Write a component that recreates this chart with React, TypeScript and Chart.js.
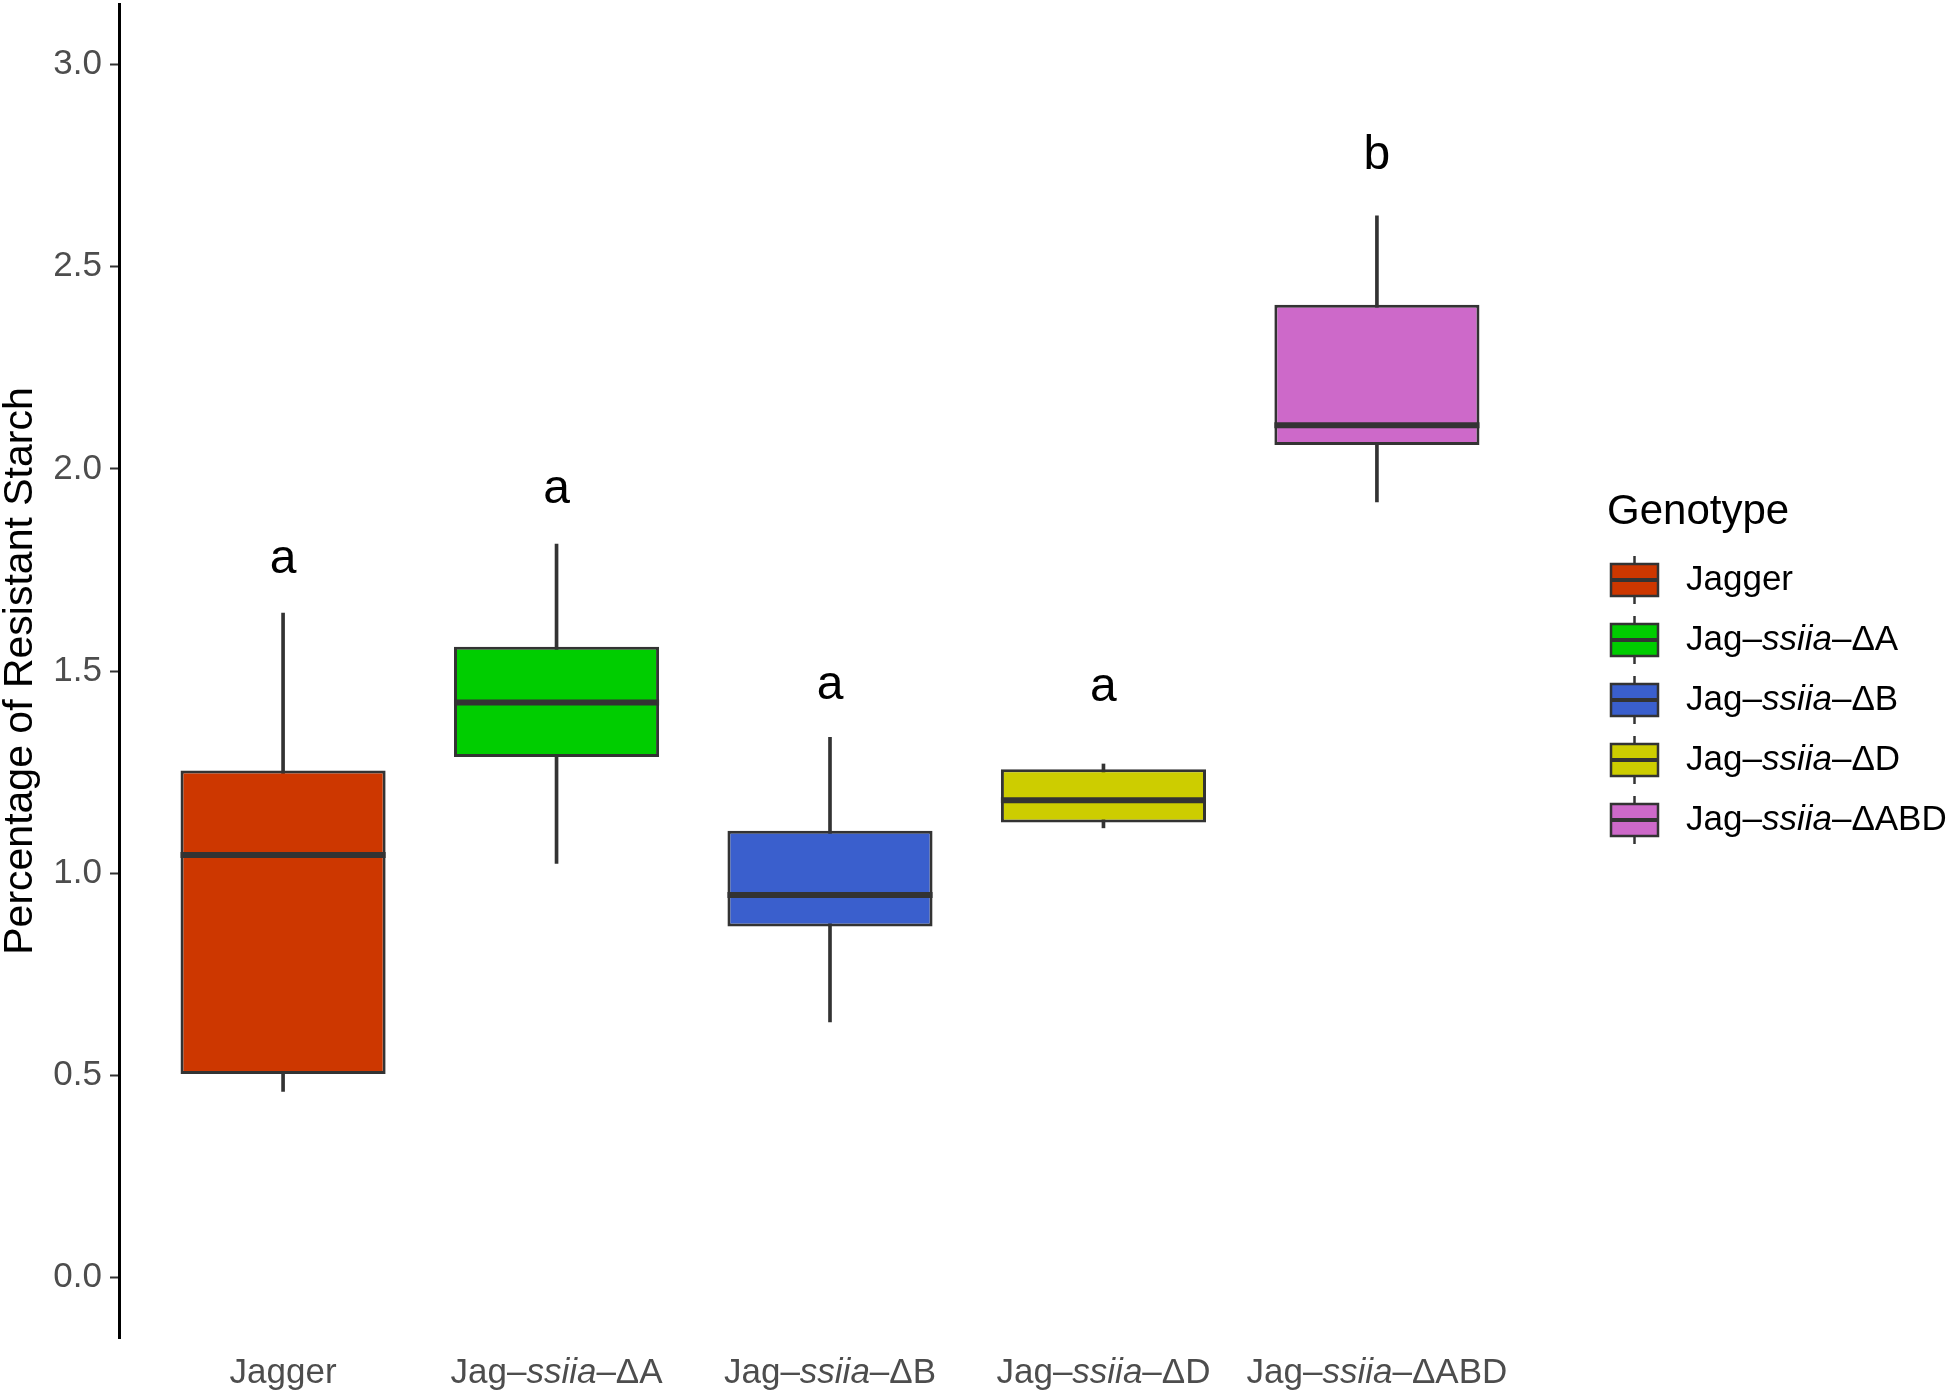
import React, { useEffect, useRef } from 'react';
import { Chart, registerables } from 'chart.js';

Chart.register(...registerables);

// ---------- data ----------
const categories = ['Jagger', 'Jag–ssiia–ΔA', 'Jag–ssiia–ΔB', 'Jag–ssiia–ΔD', 'Jag–ssiia–ΔABD'];
const labelPrefix = ['Jagger', 'Jag–', 'Jag–', 'Jag–', 'Jag–'];
const labelItalic = ['', 'ssiia', 'ssiia', 'ssiia', 'ssiia'];
const labelSuffix = ['', '–ΔA', '–ΔB', '–ΔD', '–ΔABD'];

const whiskerLow = [0.46, 1.024, 0.632, 1.112, 1.918];
const q1 = [0.503, 1.287, 0.868, 1.125, 2.059];
const median = [1.045, 1.422, 0.946, 1.18, 2.108];
const q3 = [1.254, 1.56, 1.105, 1.257, 2.406];
const whiskerHigh = [1.643, 1.814, 1.336, 1.27, 2.626];

const letters = ['a', 'a', 'a', 'a', 'b'];
const letterY = [1.775, 1.948, 1.464, 1.459, 2.775];

const yTicks = [0, 0.5, 1.0, 1.5, 2.0, 2.5, 3.0];
const yMin = -0.15;
const yMax = 3.15;

const fillColors = ['#CD3700', '#00CD00', '#3A5FCD', '#CDCD00', '#CD69C9'];
const legendTitle = 'Genotype';
const yTitle = 'Percentage of Resistant Starch';

// ---------- styles ----------
const FONT = '"Liberation Sans", Arial, Helvetica, sans-serif';
const LINE = '#333333';
const BOX_RATIO = 0.75;

const positions = categories.map((_, i) => i + 1);

function drawRich(
  ctx: CanvasRenderingContext2D,
  parts: [string, boolean][],
  x: number,
  y: number,
  size: number,
  align: 'left' | 'center',
  color: string
) {
  const fonts = parts.map(([, it]) => `${it ? 'italic ' : ''}${size}px ${FONT}`);
  const widths = parts.map(([t], k) => {
    ctx.font = fonts[k];
    return ctx.measureText(t).width;
  });
  const total = widths.reduce((a, b) => a + b, 0);
  let cx = align === 'center' ? x - total / 2 : x;
  ctx.fillStyle = color;
  ctx.textAlign = 'left';
  parts.forEach(([t], k) => {
    ctx.font = fonts[k];
    ctx.fillText(t, cx, y);
    cx += widths[k];
  });
}

const decorPlugin = {
  id: 'decor',
  afterDraw(chart: any) {
    const { ctx, chartArea } = chart;
    const xs = chart.scales.x;
    const ys = chart.scales.y;
    ctx.save();

    // significance letters
    ctx.textBaseline = 'middle';
    ctx.textAlign = 'center';
    ctx.fillStyle = '#000000';
    ctx.font = `48px ${FONT}`;
    letters.forEach((l, i) => {
      ctx.fillText(l, xs.getPixelForValue(positions[i]), ys.getPixelForValue(letterY[i]));
    });

    // x-axis category labels (with italic gene name)
    ctx.textBaseline = 'alphabetic';
    categories.forEach((_, i) => {
      const parts: [string, boolean][] = [
        [labelPrefix[i], false],
        [labelItalic[i], true],
        [labelSuffix[i], false],
      ];
      drawRich(ctx, parts, xs.getPixelForValue(positions[i]), chartArea.bottom + 45, 35, 'center', '#4D4D4D');
    });

    // legend
    const midY = (chartArea.top + chartArea.bottom) / 2;
    const lx = chartArea.right + 66;
    ctx.textBaseline = 'middle';
    ctx.textAlign = 'left';
    ctx.fillStyle = '#000000';
    ctx.font = `42px ${FONT}`;
    ctx.fillText(legendTitle, lx, midY - 159);
    categories.forEach((_, i) => {
      const cy = midY - 91 + i * 60;
      const bx = lx + 4;
      const bw = 47;
      const bh = 32;
      const cxk = bx + bw / 2;
      ctx.strokeStyle = LINE;
      ctx.lineWidth = 2.5;
      ctx.beginPath();
      ctx.moveTo(cxk, cy - 24);
      ctx.lineTo(cxk, cy + 24);
      ctx.stroke();
      ctx.fillStyle = fillColors[i];
      ctx.fillRect(bx, cy - bh / 2, bw, bh);
      ctx.strokeRect(bx, cy - bh / 2, bw, bh);
      ctx.lineWidth = 4;
      ctx.beginPath();
      ctx.moveTo(bx, cy);
      ctx.lineTo(bx + bw, cy);
      ctx.stroke();
      drawRich(
        ctx,
        [
          [labelPrefix[i], false],
          [labelItalic[i], true],
          [labelSuffix[i], false],
        ],
        lx + 79,
        cy,
        35,
        'left',
        '#000000'
      );
    });

    ctx.restore();
  },
};

export default function App() {
  const canvasRef = useRef<HTMLCanvasElement | null>(null);

  useEffect(() => {
    document.body.style.margin = '0';
    document.body.style.overflow = 'hidden';
    const canvas = canvasRef.current;
    if (!canvas) return;

    const chart = new Chart(canvas, {
      type: 'bar',
      data: {
        datasets: [
          {
            type: 'line',
            label: 'median',
            data: positions.map((x, i) => ({ x, y: median[i] })),
            showLine: false,
            pointStyle: 'line',
            pointRadius: (c: any) => {
              const s = c.chart.scales.x;
              return (Math.abs(s.getPixelForValue(2) - s.getPixelForValue(1)) * BOX_RATIO) / 2;
            },
            pointBorderWidth: 6,
            pointBorderColor: LINE,
            borderColor: LINE,
            order: 0,
          } as any,
          {
            type: 'bar',
            label: 'box',
            data: positions.map((x, i) => ({ x, y: [q1[i], q3[i]] })),
            backgroundColor: fillColors,
            borderColor: LINE,
            borderWidth: 3,
            borderSkipped: false,
            grouped: false,
            categoryPercentage: 1,
            barPercentage: BOX_RATIO,
            order: 1,
          } as any,
          {
            type: 'bar',
            label: 'whisker',
            data: positions.map((x, i) => ({ x, y: [whiskerLow[i], whiskerHigh[i]] })),
            backgroundColor: LINE,
            borderWidth: 0,
            grouped: false,
            barThickness: 3,
            order: 2,
          } as any,
        ],
      },
      options: {
        responsive: false,
        animation: false,
        devicePixelRatio: 1,
        layout: { padding: { top: 4, right: 405, bottom: 0, left: 0 } },
        plugins: {
          legend: { display: false },
          tooltip: { enabled: false },
        },
        scales: {
          x: {
            type: 'linear',
            offset: false,
            min: 0.4,
            max: 5.6,
            afterBuildTicks: (s: any) => {
              s.ticks = positions.map((v) => ({ value: v }));
            },
            afterFit: (s: any) => {
              s.height = 54;
              s.paddingLeft = 0;
              s.paddingRight = 0;
            },
            ticks: { display: false },
            grid: { display: false },
            border: { display: false },
          },
          y: {
            type: 'linear',
            min: yMin,
            max: yMax,
            afterBuildTicks: (s: any) => {
              s.ticks = yTicks.map((v) => ({ value: v }));
            },
            afterFit: (s: any) => {
              s.width = 119;
              s.paddingTop = 0;
              s.paddingBottom = 0;
            },
            ticks: {
              callback: (v: any) => Number(v).toFixed(1),
              font: { family: FONT, size: 35 },
              color: '#4D4D4D',
              padding: 8,
            },
            grid: {
              drawOnChartArea: false,
              drawTicks: true,
              tickLength: 9,
              tickWidth: 2,
              tickColor: LINE,
            },
            border: { display: true, color: '#000000', width: 3 },
            title: {
              display: true,
              text: yTitle,
              color: '#000000',
              font: { family: FONT, size: 41, lineHeight: 1 },
              padding: { top: 0, bottom: 0 },
            },
          },
        },
      } as any,
      plugins: [decorPlugin],
    });

    return () => chart.destroy();
  }, []);

  return (
    <div style={{ width: 1946, height: 1392, background: '#ffffff' }}>
      <canvas ref={canvasRef} width={1946} height={1392} style={{ display: 'block' }} />
    </div>
  );
}
